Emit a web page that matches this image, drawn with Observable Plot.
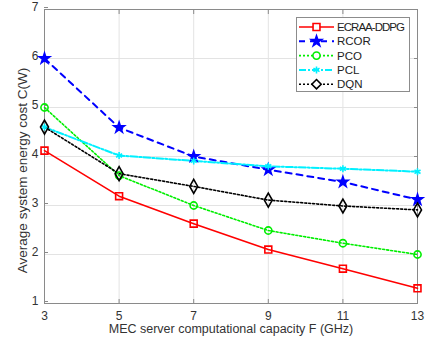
<!DOCTYPE html>
<html><head><meta charset="utf-8">
<script src="https://cdn.jsdelivr.net/npm/d3@7"></script>
<script src="https://cdn.jsdelivr.net/npm/@observablehq/plot@0.6"></script>
<style>
body{margin:0;background:#fff;font-family:"Liberation Sans",Arial,sans-serif;}
#wrap{position:relative;width:428px;height:341px;}
#legend{position:absolute;left:296px;top:17px;width:114px;height:75px;border:1px solid #8c8c8c;background:#fff;box-sizing:border-box;}
</style></head><body>
<div id="wrap"><div id="legend"></div></div>
<script>
const capacity = [3, 5, 7, 9, 11, 13];
const ecraa = [4.12, 3.19, 2.63, 2.10, 1.71, 1.31];
const rcor  = [6.00, 4.59, 4.00, 3.73, 3.48, 3.12];
const pco   = [5.00, 3.61, 3.00, 2.49, 2.23, 2.00];
const pcl   = [4.60, 4.02, 3.91, 3.80, 3.75, 3.69];
const dqn   = [4.60, 3.65, 3.39, 3.11, 2.99, 2.91];
const seriesNames = ["ECRAA-DDPG", "RCOR", "PCO", "PCL", "DQN"];
const xTicks = [3, 5, 7, 9, 11, 13];
const yTicks = [1, 2, 3, 4, 5, 6, 7];
const xLabel = "MEC server computational capacity F (GHz)";
const yLabel = "Average system energy cost C(W)";

const styles = [
  {name: seriesNames[0], values: ecraa, color: "#ff0000", dash: null, width: 1.6, symbol: "square", r: 3.9, fill: "none"},
  {name: seriesNames[1], values: rcor, color: "#0000ff", dash: "6,5", width: 2, symbol: "star", r: 3.3, fill: "#0000ff"},
  {name: seriesNames[2], values: pco, color: "#00ee00", dash: "2,2", width: 1.6, symbol: "circle", r: 3.6, fill: "none"},
  {name: seriesNames[3], values: pcl, color: "#00f0ff", dash: "7,2,2,2", width: 2, symbol: "asterisk", r: 3.3, fill: "none"},
  {name: seriesNames[4], values: dqn, color: "#000000", dash: "2,2", width: 1.6, symbol: "diamond", r: 4.2, fill: "none"}
];

const marks = [
  Plot.gridX(xTicks, {stroke: "#e3e3e3", strokeOpacity: 1}),
  Plot.gridY(yTicks, {stroke: "#e3e3e3", strokeOpacity: 1}),
  Plot.frame({stroke: "#8a8a8a"}),
  Plot.axisX(xTicks, {anchor: "bottom", tickSize: -4, tickPadding: 12, stroke: "#8a8a8a", fontSize: 12, fill: "#333", label: null}),
  Plot.axisX(xTicks, {anchor: "top", tickSize: -4, stroke: "#8a8a8a", tickFormat: () => "", label: null}),
  Plot.axisY(yTicks, {anchor: "left", tickSize: -4, tickPadding: 10, dy: -2, stroke: "#8a8a8a", fontSize: 12, fill: "#333", label: null}),
  Plot.axisY(yTicks, {anchor: "right", tickSize: -4, stroke: "#8a8a8a", tickFormat: () => "", label: null}),
  Plot.text([yLabel], {frameAnchor: "left", textAnchor: "middle", rotate: -90, dx: -22, dy: 14, fontSize: 13.5, fill: "#333"}),
  Plot.text([xLabel], {frameAnchor: "bottom", textAnchor: "middle", dy: 29, fontSize: 12.5, fill: "#333"})
];
for (const s of styles) {
  const data = capacity.map((c, i) => ({x: c, y: s.values[i]}));
  marks.push(Plot.line(data, {x: "x", y: "y", stroke: s.color, strokeWidth: s.width, strokeDasharray: s.dash}));
}
for (const s of styles) {
  const data = capacity.map((c, i) => ({x: c, y: s.values[i]}));
  marks.push(Plot.dot(data, {x: "x", y: "y", symbol: () => s.symbol, r: s.r, stroke: s.color, strokeWidth: 1.6, fill: s.fill}));
}

const chart = Plot.plot({
  width: 428, height: 341,
  marginLeft: 44, marginRight: 11, marginTop: 9, marginBottom: 38,
  style: {fontFamily: "'Liberation Sans', Arial, sans-serif", fontSize: "12px", color: "#333", background: "#fff"},
  x: {domain: [3, 13]},
  y: {domain: [1, 7]},
  symbol: {type: "identity"},
  marks
});
document.getElementById("wrap").prepend(chart);

// legend
const leg = d3.select("#legend").append("svg").attr("width", 112).attr("height", 73);
const symMap = {square: d3.symbolSquare, star: d3.symbolStar, circle: d3.symbolCircle, asterisk: d3.symbolAsterisk, diamond: d3.symbolDiamond2};
styles.forEach((s, i) => {
  const y = 9 + i * 14.3;
  const g = leg.append("g").attr("transform", `translate(0,${y})`);
  g.append("line").attr("x1", 2).attr("x2", 37).attr("y1", 0).attr("y2", 0)
    .attr("stroke", s.color).attr("stroke-width", s.width).attr("stroke-dasharray", s.dash);
  const sym = d3.symbol().type(symMap[s.symbol]).size(Math.PI * s.r * s.r);
  g.append("path").attr("d", sym()).attr("transform", "translate(19.5,0)")
    .attr("stroke", s.color).attr("stroke-width", 1.6).attr("fill", s.fill === "none" ? "#fff" : s.fill);
  g.append("text").attr("x", 40).attr("y", 4).attr("font-size", 11.5).attr("fill", "#222")
    .attr("textLength", s.name === "ECRAA-DDPG" ? 68 : null)
    .attr("font-family", "'Liberation Sans', Arial, sans-serif").text(s.name);
});
</script>
</body></html>
